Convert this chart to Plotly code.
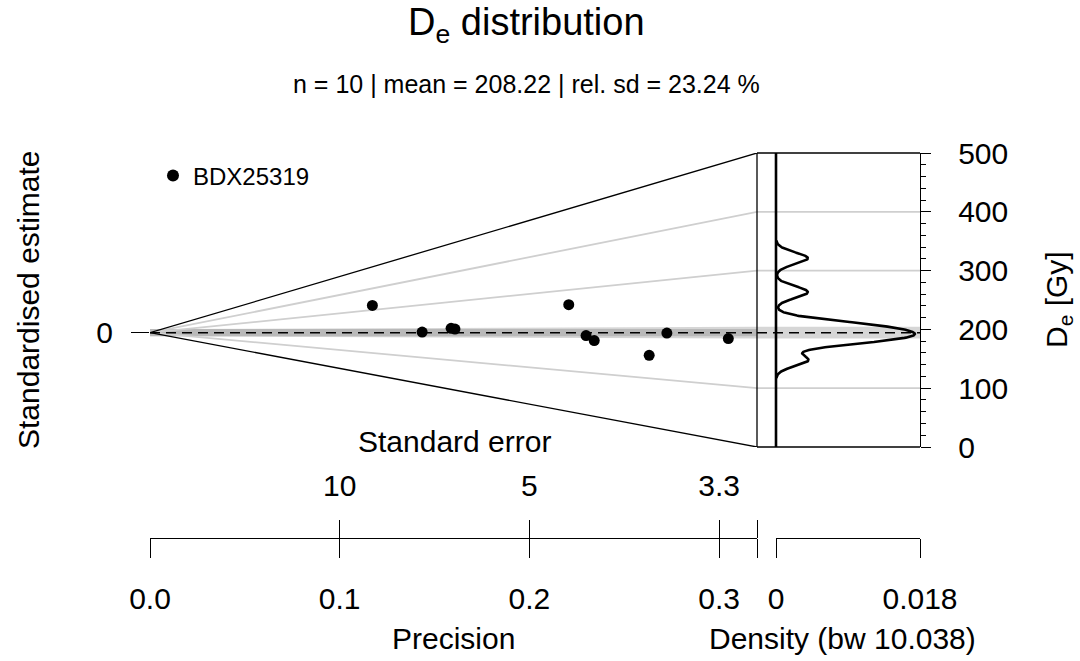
import numpy as np
import plotly.graph_objects as go

# ---------------- data ----------------
sample_name = "BDX25319"
de_values = [321.0, 196.7, 209.5, 206.5, 263.4, 187.5, 176.0, 147.5, 193.6, 184.0]   # Gy
de_errors = [8.53, 6.97, 6.30, 6.22, 4.53, 4.35, 4.27, 3.80, 3.67, 3.28]            # Gy
z_central = 194.4
bar_half_width = 10.0          # Gy, grey bar around central value
z_axis_ticks = [0, 100, 200, 300, 400, 500]
z_grey_lines = [100, 300, 400]
precision_ticks = [0.0, 0.1, 0.2, 0.3]
precision_labels = ["0.0", "0.1", "0.2", "0.3"]
se_ticks = [10.0, 5.0, 10.0 / 3.0]
se_labels = ["10", "5", "3.3"]
density_ticks = [0.0, 0.018]
density_labels = ["0", "0.018"]
bandwidth = 10.038
title_text = "D<sub>e</sub> distribution"
subtitle_text = "n = 10 | mean = 208.22 | rel. sd = 23.24 %"

# ---------------- geometry (pixels) ----------------
W, H = 1080, 661
FX0, FX1 = 150, 757      # fan (precision) panel
KX1 = 920                # right edge of KDE panel
DX0 = 776                # density zero
PY0, PY1 = 153, 447      # top / bottom of plot
AXY = 538                # bottom axes line
FONT = "Liberation Sans, Arial, sans-serif"
TICKF = 30

def px(x):
    return x / W

def py(y):
    return 1 - y / H

XMAX = 0.32
ZMIN, ZMAX = min(z_axis_ticks), max(z_axis_ticks)
DMAX = max(density_ticks)
XL = -DMAX * (DX0 - FX1) / (KX1 - DX0)

prec = [1.0 / s for s in de_errors]
std = [(d - z_central) / s for d, s in zip(de_values, de_errors)]

# kernel density estimate
grid = np.linspace(min(de_values) - 3 * bandwidth, max(de_values) + 3 * bandwidth, 512)
dens = np.zeros_like(grid)
for d in de_values:
    dens += np.exp(-0.5 * ((grid - d) / bandwidth) ** 2)
dens /= len(de_values) * bandwidth * np.sqrt(2 * np.pi)

fig = go.Figure()
band_col = "rgba(120,120,120,0.30)"

# +-2 band
fig.add_trace(go.Scatter(x=[0, XMAX, XMAX, 0, 0], y=[-2, -2, 2, 2, -2], fill="toself",
                         fillcolor=band_col, line=dict(width=0), mode="lines",
                         hoverinfo="skip", showlegend=False))
# central value bar (wedge)
fig.add_trace(go.Scatter(x=[0, XMAX, XMAX, 0, 0],
                         y=[-2, -bar_half_width * XMAX, bar_half_width * XMAX, 2, -2],
                         fill="toself", fillcolor=band_col, line=dict(width=0), mode="lines",
                         hoverinfo="skip", showlegend=False))
# bar continuation in KDE panel
fig.add_trace(go.Scatter(x=[XL, DMAX, DMAX, XL, XL],
                         y=[z_central - bar_half_width, z_central - bar_half_width,
                            z_central + bar_half_width, z_central + bar_half_width,
                            z_central - bar_half_width],
                         xaxis="x2", yaxis="y2", fill="toself", fillcolor=band_col,
                         line=dict(width=0), mode="lines", hoverinfo="skip", showlegend=False))

# grey radial lines + KDE panel grey lines
for z in z_grey_lines:
    fig.add_trace(go.Scatter(x=[0, XMAX], y=[0, (z - z_central) * XMAX], mode="lines",
                             line=dict(color="#cfcfcf", width=1.8), hoverinfo="skip", showlegend=False))
    fig.add_trace(go.Scatter(x=[XL, DMAX], y=[z, z], xaxis="x2", yaxis="y2", mode="lines",
                             line=dict(color="#cfcfcf", width=1.8), hoverinfo="skip", showlegend=False))

# fan edges
for z in (ZMIN, ZMAX):
    fig.add_trace(go.Scatter(x=[0, XMAX], y=[0, (z - z_central) * XMAX], mode="lines",
                             line=dict(color="black", width=1.3), hoverinfo="skip", showlegend=False))

# dashed central line
fig.add_trace(go.Scatter(x=[0, XMAX], y=[0, 0], mode="lines",
                         line=dict(color="black", width=1.6, dash="10px,6px"),
                         hoverinfo="skip", showlegend=False))
fig.add_trace(go.Scatter(x=[XL, DMAX], y=[z_central, z_central], xaxis="x2", yaxis="y2",
                         mode="lines", line=dict(color="black", width=1.6, dash="10px,6px"),
                         hoverinfo="skip", showlegend=False))

# density zero line and curve
fig.add_trace(go.Scatter(x=[0, 0], y=[ZMIN, ZMAX], xaxis="x2", yaxis="y2", mode="lines",
                         line=dict(color="black", width=2.6), hoverinfo="skip", showlegend=False))
fig.add_trace(go.Scatter(x=dens, y=grid, xaxis="x2", yaxis="y2", mode="lines",
                         line=dict(color="black", width=2.6), hoverinfo="skip", showlegend=False))

# points
fig.add_trace(go.Scatter(x=prec, y=std, mode="markers", name=sample_name,
                         marker=dict(color="black", size=11), showlegend=True))

# dummy traces to register axes
fig.add_trace(go.Scatter(x=[None], y=[None], xaxis="x3", yaxis="y", showlegend=False, hoverinfo="skip"))
fig.add_trace(go.Scatter(x=[None], y=[None], xaxis="x4", yaxis="y2", showlegend=False, hoverinfo="skip"))

ydom = [py(PY1), py(PY0)]
common = dict(showgrid=False, zeroline=False, tickcolor="black", tickwidth=1.3,
              tickfont=dict(family=FONT, size=TICKF, color="black"))

fig.update_layout(
    width=W, height=H, margin=dict(l=0, r=0, t=0, b=0, autoexpand=False),
    plot_bgcolor="rgba(0,0,0,0)", paper_bgcolor="white",
    font=dict(family=FONT, color="black"),
    xaxis=dict(domain=[px(FX0), px(FX1)], range=[0, XMAX], anchor="free", position=py(AXY),
               tickmode="array", tickvals=precision_ticks + [XMAX], ticktext=precision_labels + [""],
               ticks="outside", ticklen=19, showline=True, linecolor="black", linewidth=1.3,
               ticklabelstandoff=15, **common),
    xaxis3=dict(overlaying="x", range=[0, XMAX], side="top", anchor="free", position=py(AXY),
                tickmode="array", tickvals=[1 / s for s in se_ticks] + [XMAX], ticktext=se_labels + [""],
                ticks="outside", ticklen=18, showline=False, ticklabelstandoff=12, **common),
    xaxis2=dict(domain=[px(FX1), px(KX1)], range=[XL, DMAX], visible=False, anchor="y2"),
    xaxis4=dict(domain=[px(DX0), px(KX1)], range=[0, DMAX], anchor="free", position=py(AXY),
                tickmode="array", tickvals=density_ticks, ticktext=density_labels,
                ticks="outside", ticklen=19, showline=True, linecolor="black", linewidth=1.3,
                ticklabelstandoff=15, **common),
    yaxis=dict(domain=ydom, range=[(ZMIN - z_central) * XMAX, (ZMAX - z_central) * XMAX],
               anchor="x", tickmode="array", tickvals=[0], ticktext=["0"], ticks="outside",
               ticklen=18, showline=False, ticklabelstandoff=12, **common),
    yaxis2=dict(domain=ydom, range=[ZMIN, ZMAX], anchor="free", position=px(KX1), side="right",
                tickmode="array", tickvals=z_axis_ticks, ticks="outside", ticklen=10,
                minor=dict(dtick=20, ticklen=5, ticks="outside", tickcolor="black", tickwidth=1.3),
                showline=True, linecolor="black", linewidth=1.3, ticklabelstandoff=21, **common),
    legend=dict(x=px(153), y=py(176), xanchor="left", yanchor="middle",
                font=dict(family=FONT, size=24, color="black"), bgcolor="rgba(0,0,0,0)",
                itemsizing="constant"),
    showlegend=True,
)

# frame of KDE panel
frame = dict(type="line", xref="x2 domain", yref="y2 domain", line=dict(color="black", width=1.3))
fig.add_shape(**frame, x0=0, x1=1, y0=1, y1=1)
fig.add_shape(**frame, x0=0, x1=1, y0=0, y1=0)
fig.add_shape(**frame, x0=0, x1=0, y0=0, y1=1)

ann = dict(xref="paper", yref="paper", showarrow=False, font=dict(family=FONT, color="black"))
fig.add_annotation(**ann, text=title_text, x=px(526), y=py(25), xanchor="center", yanchor="middle",
                   font_size=38)
fig.add_annotation(**ann, text=subtitle_text, x=px(526), y=py(84), xanchor="center", yanchor="middle",
                   font_size=25)
fig.add_annotation(**ann, text="Standardised estimate", x=px(28), y=py(300), textangle=-90,
                   xanchor="center", yanchor="middle", font_size=TICKF)
fig.add_annotation(**ann, text="D<sub>e</sub> [Gy]", x=px(1058), y=py(300), textangle=-90,
                   xanchor="center", yanchor="middle", font_size=TICKF)
fig.add_annotation(**ann, text="Standard error", x=px(454), y=py(441), xanchor="center",
                   yanchor="middle", font_size=TICKF)
fig.add_annotation(**ann, text="Precision", x=px(453), y=py(638), xanchor="center",
                   yanchor="middle", font_size=TICKF)
fig.add_annotation(**ann, text="Density (bw 10.038)", x=px(842), y=py(638), xanchor="center",
                   yanchor="middle", font_size=TICKF)

fig.write_html("out.html")
